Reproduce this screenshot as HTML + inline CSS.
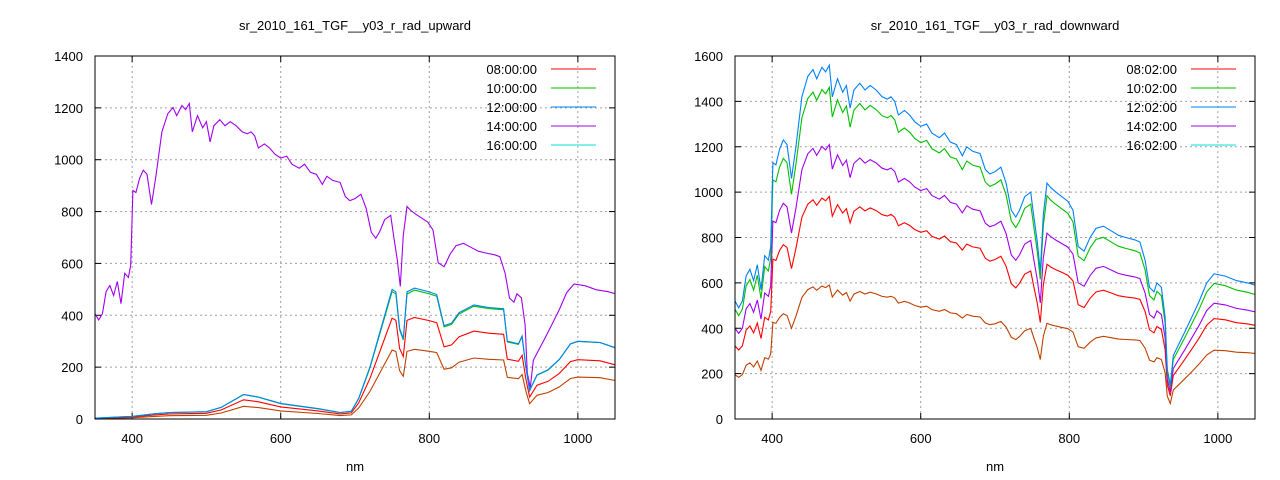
<!DOCTYPE html>
<html><head><meta charset="utf-8"><style>
body{margin:0;background:#fff;}
svg{display:block;font-family:"Liberation Sans",sans-serif;}
text{font-size:13px;fill:#000;}
</style></head><body>
<svg id="s" width="1280" height="480" xmlns="http://www.w3.org/2000/svg">
<text x="355" y="30" text-anchor="middle">sr_2010_161_TGF__y03_r_rad_upward</text>
<text x="995" y="30" text-anchor="middle">sr_2010_161_TGF__y03_r_rad_downward</text>
<text x="355" y="471" text-anchor="middle">nm</text>
<text x="995" y="471" text-anchor="middle">nm</text>
<g id="g"></g>
</svg>
<script>
var NS="http://www.w3.org/2000/svg",g=document.getElementById('g');
function el(t,a,txt){var e=document.createElementNS(NS,t);for(var k in a)e.setAttribute(k,a[k]);if(txt)e.textContent=txt;g.appendChild(e);return e;}
var base=[[350,520],[355,490],[360,520],[365,630],[370,660],[375,610],[380,680],[385,570],[390,720],[395,700],[398,760],[401,1130],[405,1120],[410,1190],[415,1230],[420,1210],[426,1060],[432,1200],[440,1420],[448,1510],[455,1540],[460,1500],[467,1550],[472,1530],[477,1560],[481,1420],[488,1500],[495,1440],[500,1470],[505,1370],[510,1450],[518,1480],[525,1450],[532,1470],[540,1450],[548,1420],[555,1410],[560,1420],[565,1400],[570,1340],[578,1360],[585,1340],[592,1310],[600,1290],[608,1300],[615,1260],[625,1240],[632,1260],[640,1220],[648,1210],[656,1160],[662,1200],[670,1180],[680,1170],[687,1100],[693,1080],[700,1090],[708,1110],[715,1040],[722,920],[728,890],[733,920],[740,980],[748,1000],[752,900],[757,780],[761,650],[765,900],[770,1040],[775,1020],[782,1000],[790,980],[798,960],[805,920],[812,760],[820,740],[828,800],[836,840],[846,850],[856,830],[866,810],[876,800],[888,790],[895,780],[902,700],[908,580],[914,560],[918,600],[924,580],[929,450],[932,220],[936,150],[940,280],[946,320],[955,380],[965,450],[975,520],[985,600],[995,640],[1010,630],[1025,610],[1040,600],[1050,590]];
var lb=[[350,3],[400,10],[430,20],[450,25],[500,28],[520,45],[550,95],[570,85],[600,60],[650,40],[680,25],[695,30],[705,80],[720,200],[735,350],[750,500],[755,490],[760,350],[765,310],[770,490],[780,505],[800,490],[810,480],[820,360],[830,370],[840,410],[860,440],[880,430],[900,425],[905,300],[920,290],[925,320],[930,200],[935,110],[945,170],[960,190],[975,230],[990,290],[1000,300],[1030,295],[1050,275]];
function axes(x0,x1,y0,y1,ymax){
 var sx=(x1-x0)/700,sy=(y1-y0)/ymax;
 for(var v=0;v<=ymax;v+=200){var y=y1-v*sy;
  if(v>0&&v<ymax)el('line',{x1:x0,x2:x1,y1:y,y2:y,stroke:'#a0a0a0','stroke-dasharray':'2,3'});
  el('line',{x1:x0,x2:x0+6,y1:y,y2:y,stroke:'#000'});el('line',{x1:x1,x2:x1-6,y1:y,y2:y,stroke:'#000'});
  el('text',{x:x0-12,y:y+5,'text-anchor':'end'},String(v));}
 for(var n=400;n<=1000;n+=200){var x=x0+(n-350)*sx;
  el('line',{x1:x,x2:x,y1:y0,y2:y1,stroke:'#a0a0a0','stroke-dasharray':'2,3'});
  el('line',{x1:x,x2:x,y1:y1,y2:y1-6,stroke:'#000'});el('line',{x1:x,x2:x,y1:y0,y2:y0+6,stroke:'#000'});
  el('text',{x:x,y:y1+24,'text-anchor':'middle'},String(n));}
 return function(pts,f,col){var d='';pts.forEach(function(p,i){d+=(i?'L':'M')+(x0+(p[0]-350)*sx).toFixed(1)+','+(y1-f(p[0],p[1])*sy).toFixed(1);});
  el('path',{d:d,fill:'none',stroke:col,'stroke-width':1.1});};
}
function r3(a,b,c){return function(n,v){var k=n<700?a+(b-a)*(n-350)/350:b+(c-b)*(n-700)/350;return v*k;};}
var L=axes(95,615,56,419,1400);
L(lb,r3(0.5,0.53,0.54),'#c04000');
L(lb,r3(0.78,0.78,0.76),'#ff0000');
L(base,r3(0.78,0.78,0.82),'#a000f0');
L(lb,r3(1,0.98,1),'#00c000');
L(lb,r3(1,1,1),'#0080ff');
var R=axes(735,1255,56,419,1600);
R(base,r3(0.375,0.385,0.49),'#c04000');
R(base,r3(0.62,0.645,0.7),'#ff0000');
R(base,r3(0.77,0.785,0.8),'#a000f0');
R(base,r3(0.93,0.95,0.93),'#00c000');
R(base,r3(1,1,1),'#0080ff');
var cols=['#ff0000','#00c000','#0080ff','#a000f0','#00e0e0'];
[['00',537,551],['02',1177,1191]].forEach(function(o){['08','10','12','14','16'].forEach(function(h,i){var y=69+i*19;
 el('text',{x:o[1],y:y+5,'text-anchor':'end'},h+':'+o[0]+':00');
 el('line',{x1:o[2],x2:o[2]+45,y1:y,y2:y,stroke:cols[i]});});});
el('rect',{x:95,y:56,width:520,height:363,fill:'none',stroke:'#000'});
el('rect',{x:735,y:56,width:520,height:363,fill:'none',stroke:'#000'});
</script>
</body></html>
